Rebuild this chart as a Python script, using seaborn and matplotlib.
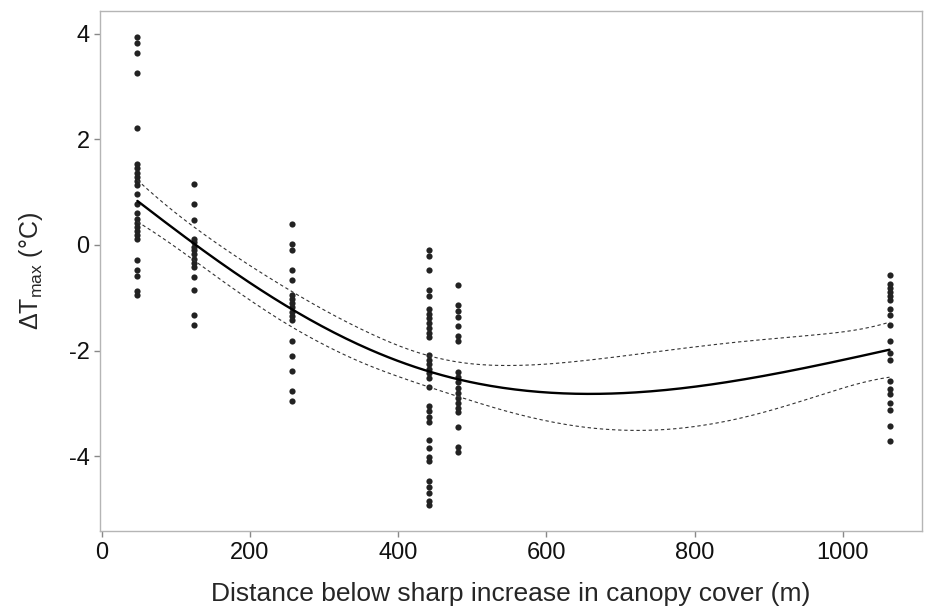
import numpy as np
import pandas as pd
import seaborn as sns
import matplotlib.pyplot as plt

# distance classes (m) and the measured delta Tmax at each
dist_1 = 48
dt_1 = [3.94, 3.83, 3.63, 3.25, 2.21, 1.53, 1.45, 1.37, 1.29, 1.21, 1.13, 0.96, 0.77,
        0.60, 0.50, 0.42, 0.34, 0.26, 0.18, 0.12, -0.28, -0.48, -0.58, -0.87, -0.95]
dist_2 = 125
dt_2 = [1.15, 0.77, 0.47, 0.12, 0.05, -0.03, -0.10, -0.18, -0.26, -0.34, -0.42,
        -0.61, -0.85, -1.32, -1.51]
dist_3 = 257
dt_3 = [0.39, 0.01, -0.10, -0.48, -0.66, -0.94, -1.02, -1.10, -1.18, -1.26, -1.35,
        -1.43, -1.81, -2.10, -2.38, -2.76, -2.95]
dist_4 = 441
dt_4 = [-0.09, -0.20, -0.48, -0.85, -0.96, -1.21, -1.30, -1.39, -1.48, -1.57, -1.66,
        -1.74, -2.08, -2.17, -2.26, -2.34, -2.43, -2.51, -2.68, -3.05, -3.15, -3.25,
        -3.35, -3.70, -3.84, -4.02, -4.09, -4.47, -4.58, -4.70, -4.85, -4.92]
dist_5 = 480
dt_5 = [-0.75, -1.13, -1.25, -1.37, -1.53, -1.72, -1.81, -2.41, -2.50, -2.60, -2.70,
        -2.80, -2.90, -3.00, -3.08, -3.16, -3.44, -3.83, -3.92]
dist_6 = 1063
dt_6 = [-0.56, -0.73, -0.81, -0.89, -0.97, -1.05, -1.22, -1.33, -1.51, -1.81, -2.05,
        -2.17, -2.57, -2.73, -2.83, -3.00, -3.12, -3.43, -3.71]

rows = []
for d, vals in [(dist_1, dt_1), (dist_2, dt_2), (dist_3, dt_3),
                (dist_4, dt_4), (dist_5, dt_5), (dist_6, dt_6)]:
    for v in vals:
        rows.append((d, v))
df = pd.DataFrame(rows, columns=["dist", "dT"])


# penalised cubic B-spline smoother (GAM-like) with 95% band
def bbase(u, nseg=10, deg=3):
    t = np.arange(-deg, nseg + deg + 1) / nseg
    B = np.array([(u >= t[i]) & (u < t[i + 1]) for i in range(len(t) - 1)], float).T
    for k in range(1, deg + 1):
        nb = len(t) - k - 1
        Bn = np.zeros((len(u), nb))
        for i in range(nb):
            a = (u - t[i]) / (t[i + k] - t[i]) * B[:, i]
            b = (t[i + k + 1] - u) / (t[i + k + 1] - t[i + 1]) * B[:, i + 1]
            Bn[:, i] = a + b
        B = Bn
    return B


def pspline(x, y, grid, lam):
    lo, hi = x.min(), x.max()
    u = np.clip((x - lo) / (hi - lo), 0, 1 - 1e-9)
    ug = np.clip((grid - lo) / (hi - lo), 0, 1 - 1e-9)
    B = bbase(u)
    G = bbase(ug)
    D = np.diff(np.eye(B.shape[1]), 2, axis=0)
    Ai = np.linalg.inv(B.T @ B + lam * D.T @ D)
    beta = Ai @ B.T @ y
    edf = np.trace(Ai @ B.T @ B)
    r = y - B @ beta
    s2 = r @ r / (len(y) - edf)
    f = G @ beta
    se = np.sqrt(np.einsum("ij,jk,ik->i", G, s2 * Ai, G))
    return f, se


grid = np.linspace(df["dist"].min(), df["dist"].max(), 250)
fit, se = pspline(df["dist"].values.astype(float), df["dT"].values, grid, 30)
curve = pd.DataFrame({"dist": grid, "fit": fit, "lo": fit - 1.96 * se, "hi": fit + 1.96 * se})

sns.set_style("white")
plt.rcParams["font.family"] = ["Liberation Sans", "DejaVu Sans"]
plt.rcParams["mathtext.fontset"] = "custom"
plt.rcParams["mathtext.rm"] = "Liberation Sans"
plt.rcParams["mathtext.it"] = "Liberation Sans"
plt.rcParams["mathtext.default"] = "regular"
plt.rcParams["axes.unicode_minus"] = False

fig = plt.figure(figsize=(9.29, 6.12), dpi=100)
ax = fig.add_axes([0.1076, 0.132, 0.885, 0.85])

sns.scatterplot(data=df, x="dist", y="dT", color="#222222", s=20, linewidth=0, ax=ax)
sns.lineplot(data=curve, x="dist", y="fit", color="black", linewidth=1.7, ax=ax)
sns.lineplot(data=curve, x="dist", y="lo", color="#333333", linewidth=0.8,
             linestyle=(0, (3, 2.5)), ax=ax)
sns.lineplot(data=curve, x="dist", y="hi", color="#333333", linewidth=0.8,
             linestyle=(0, (3, 2.5)), ax=ax)

ax.set_xlim(-2.5, 1107)
ax.set_ylim(-5.42, 4.43)
ax.set_xticks([0, 200, 400, 600, 800, 1000])
ax.set_yticks([-4, -2, 0, 2, 4])
ax.set_xlabel("Distance below sharp increase in canopy cover (m)", fontsize=19, labelpad=13)
ax.set_ylabel(r"$\Delta T_{max}$ (°C)", fontsize=18, labelpad=17)
ax.tick_params(axis="both", labelsize=17, length=4.5, width=1, color="#888888",
               labelcolor="#111111", direction="out", bottom=True, left=True, pad=3)
for sp in ax.spines.values():
    sp.set_color("#b5b5b5")
    sp.set_linewidth(1)

fig.savefig("out.png", dpi=100)
